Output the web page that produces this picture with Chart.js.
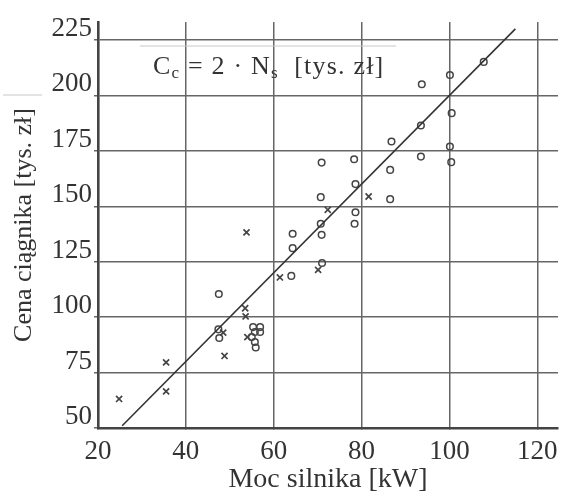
<!DOCTYPE html>
<html>
<head>
<meta charset="utf-8">
<script src="https://cdn.jsdelivr.net/npm/chart.js@4.4.1/dist/chart.umd.min.js"></script>
<style>
  html, body { margin: 0; padding: 0; background: #fff; }
  #wrap { width: 564px; height: 491px; }
</style>
</head>
<body>
<div id="wrap"><canvas id="chart"></canvas></div>
<script>
const xTicks = [20, 40, 60, 80, 100, 120];
const yTicks = [50, 75, 100, 125, 150, 175, 200, 225];

// ciągniki - kółka
const circleX = [47.5, 47.4, 47.6, 55.3, 56.9, 55.7, 56.9, 55.0, 55.7, 55.9,
                 64.3, 64.3, 64.0, 70.9, 70.7, 70.7, 70.9, 71.0,
                 78.3, 78.6, 78.6, 78.4, 86.8, 86.5, 86.5,
                 93.5, 93.7, 93.5, 100.1, 100.5, 100.1, 100.4, 107.8];
const circleY = [110.4, 94.5, 90.6, 95.5, 95.5, 93.3, 93.3, 91.0, 88.8, 86.3,
                 137.6, 131.1, 118.6, 169.7, 154.1, 142.1, 137.1, 124.4,
                 171.2, 160.0, 147.3, 142.1, 179.2, 166.4, 153.2,
                 186.4, 205.0, 172.4, 209.2, 192.0, 176.9, 169.9, 215.1];

// ciągniki - krzyżyki
const crossX = [24.8, 35.5, 35.5, 48.8, 48.5, 53.8, 53.5, 53.6, 54.0, 61.4, 70.1, 72.3, 81.6];
const crossY = [63.1, 79.6, 66.5, 82.5, 93.0, 138.2, 104.0, 100.3, 91.0, 117.9, 121.3, 148.4, 154.4];

// Cc = 2 * Ns
const lineX = [25.5, 115];
const lineY = [51, 230];

const toPoints = (xs, ys) => xs.map((x, i) => ({ x: x, y: ys[i] }));

const serif = '"Liberation Serif", "Times New Roman", serif';
const ink = "#333";

const formulaPlugin = {
    id: "formula",
    afterDraw(chart) {
        const ctx = chart.ctx;
        ctx.save();
        // slady skanu
        ctx.strokeStyle = "#c8c8c8";
        ctx.lineWidth = 1.2;
        ctx.beginPath();
        ctx.moveTo(140, 46);
        ctx.lineTo(396, 46);
        ctx.moveTo(3, 95);
        ctx.lineTo(42, 95);
        ctx.stroke();

        ctx.fillStyle = ink;
        ctx.textBaseline = "alphabetic";
        ctx.letterSpacing = "1.2px";
        const big = "26px " + serif;
        const small = "17px " + serif;
        const parts = [["C", big, 0], ["c", small, 4], [" = 2 · N", big, 0], ["s", small, 4], ["  [tys. zł]", big, 0]];
        let x = 153;
        const base = 74;
        parts.forEach(([txt, font, dy]) => {
            ctx.font = font;
            ctx.fillText(txt, x, base + dy);
            x += ctx.measureText(txt).width;
        });
        ctx.restore();
    }
};

new Chart(document.getElementById("chart"), {
    type: "scatter",
    data: {
        datasets: [
            {
                label: "Cc = 2 Ns",
                data: toPoints(lineX, lineY),
                showLine: true,
                borderColor: "#333",
                borderWidth: 1.6,
                pointRadius: 0,
                fill: false,
            },
            {
                label: "o",
                data: toPoints(circleX, circleY),
                pointStyle: "circle",
                pointRadius: 3.3,
                borderWidth: 1.5,
                borderColor: "#444",
                backgroundColor: "rgba(0,0,0,0)",
            },
            {
                label: "x",
                data: toPoints(crossX, crossY),
                pointStyle: "crossRot",
                pointRadius: 4.3,
                borderWidth: 1.7,
                borderColor: "#444",
            },
        ],
    },
    options: {
        responsive: true,
        maintainAspectRatio: false,
        animation: false,
        layout: { padding: { top: 22, right: 0, left: 0, bottom: 0 } },
        plugins: {
            legend: { display: false },
            tooltip: { enabled: false },
        },
        scales: {
            x: {
                type: "linear",
                min: 20,
                max: 124.7,
                afterBuildTicks: (axis) => { axis.ticks = xTicks.map((v) => ({ value: v })); },
                afterFit: (axis) => { axis.height = 63; axis.paddingLeft = 0; axis.paddingRight = 0; },
                grid: { color: "#666", lineWidth: 1.5, tickLength: 2 },
                border: { color: "#444", width: 2.6 },
                ticks: { color: ink, font: { family: serif, size: 27 }, padding: 6, maxRotation: 0 },
                title: {
                    display: true,
                    text: "Moc silnika [kW]",
                    color: ink,
                    font: { family: serif, size: 28, lineHeight: 0.8 },
                    padding: { top: 0, bottom: 0 },
                },
            },
            y: {
                type: "linear",
                min: 50,
                max: 233.1,
                afterBuildTicks: (axis) => { axis.ticks = yTicks.map((v) => ({ value: v })); },
                afterFit: (axis) => { axis.width = 98; axis.paddingTop = 0; axis.paddingBottom = 0; },
                grid: { color: "#666", lineWidth: 1.5, tickLength: 4 },
                border: { color: "#444", width: 2.6 },
                ticks: { color: ink, font: { family: serif, size: 27 }, padding: 2, labelOffset: -11 },
                title: {
                    display: true,
                    text: "Cena ciągnika [tys. zł]",
                    color: ink,
                    font: { family: serif, size: 26, lineHeight: 1 },
                    padding: { top: 11, bottom: 0 },
                },
            },
        },
    },
    plugins: [formulaPlugin],
});
</script>
</body>
</html>
